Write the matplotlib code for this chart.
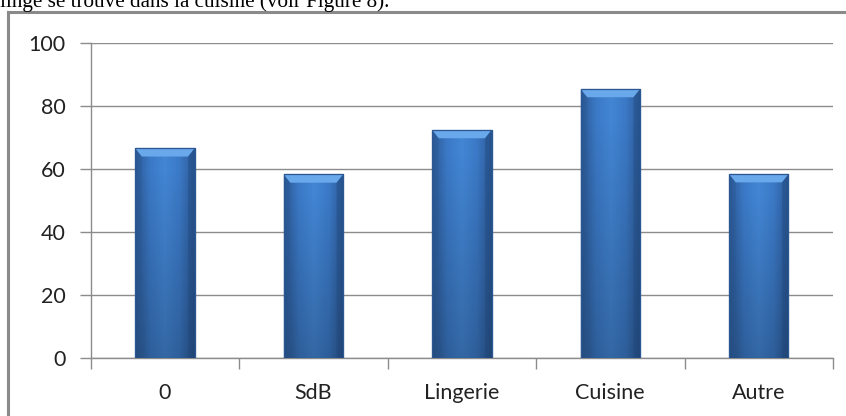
import numpy as np
import matplotlib.pyplot as plt
from matplotlib.colors import LinearSegmentedColormap
from matplotlib.patches import Polygon
from matplotlib.lines import Line2D

# Data
categories = ["0", "SdB", "Lingerie", "Cuisine", "Autre"]
values = [66.5, 58.2, 72.3, 85.3, 58.3]
yticks = [0, 20, 40, 60, 80, 100]
caption = "linge se trouve dans la cuisine (voir Figure 8)."

W, H = 846, 416
fig = plt.figure(figsize=(W / 100, H / 100), dpi=100)
fig.patch.set_facecolor("white")

# cut-off line of body text above the chart
fig.text(0, 1 - 7 / H, caption, family="Liberation Serif", fontsize=15.2,
         ha="left", va="baseline", color="black")

# chart frame (only top and left edges are visible in the crop)
fig.add_artist(Line2D([8 / W, 8 / W], [0, 1 - 12 / H], transform=fig.transFigure,
                      color="#8a8a8a", lw=2.2))
fig.add_artist(Line2D([8 / W, 1], [1 - 12 / H, 1 - 12 / H], transform=fig.transFigure,
                      color="#8a8a8a", lw=2.2))

ax = fig.add_axes([90.7 / W, 1 - 358 / H, (833 - 90.7) / W, (358 - 42.7) / H])
x = np.arange(len(categories))
bars = ax.bar(x, values, width=0.4, color="#3b78c4", edgecolor="#2d5d9a",
              linewidth=0.8, zorder=3)

ax.set_xlim(-0.5, len(categories) - 0.5)
ax.set_ylim(0, 100)
ax.set_yticks(yticks)
ax.set_xticks(x)
ax.set_xticklabels(categories)
ax.set_xticks(np.arange(len(categories) + 1) - 0.5, minor=True)

for s in ["top", "right"]:
    ax.spines[s].set_visible(False)
ax.spines["left"].set_color("#8c8c8c")
ax.spines["bottom"].set_color("#8c8c8c")
ax.spines["left"].set_linewidth(1.0)
ax.spines["bottom"].set_linewidth(1.0)

ax.yaxis.grid(True, color="#8c8c8c", lw=1.0, zorder=0)
ax.set_axisbelow(True)
ax.tick_params(axis="y", which="major", length=8, color="#8c8c8c", width=1.0,
               pad=10, labelsize=15.5, labelcolor="#222222")
ax.tick_params(axis="x", which="major", length=0, pad=18, labelsize=15.5,
               labelcolor="#222222")
ax.tick_params(axis="x", which="minor", length=8, color="#8c8c8c", width=1.0)
for lab in ax.get_xticklabels() + ax.get_yticklabels():
    lab.set_family(["Lato", "DejaVu Sans"])

# gradient fill with a bevelled top on each bar
cmap = LinearSegmentedColormap.from_list(
    "bar", ["#2c5a96", "#3b79c6", "#4386d4", "#3b79c6", "#2c5a96"])
grad = np.linspace(0, 1, 64)[None, :]
for b in bars:
    x0, w, h = b.get_x(), b.get_width(), b.get_height()
    im = ax.imshow(grad, extent=(x0, x0 + w, 0, h), aspect="auto", cmap=cmap,
                   zorder=3.5, origin="lower")
    im.set_clip_path(b)
    # vertical darkening toward the bottom
    shade = np.linspace(0.22, 0, 64)[:, None]
    rgba = np.zeros((64, 1, 4))
    rgba[..., 3] = shade
    ax.imshow(rgba, extent=(x0, x0 + w, 0, h * 0.9), aspect="auto",
              zorder=3.6, origin="lower")
    bev = 0.11 * w
    bh = 2.6
    ax.add_patch(Polygon([(x0, h), (x0 + w, h), (x0 + w - bev, h - bh), (x0 + bev, h - bh)],
                         closed=True, facecolor="#6aa8ec", edgecolor="none", zorder=3.7))
    ax.add_patch(Polygon([(x0, h), (x0 + bev, h - bh), (x0 + bev, 0), (x0, 0)],
                         closed=True, facecolor="#2a5690", alpha=0.35,
                         edgecolor="none", zorder=3.7))
    ax.add_patch(Polygon([(x0 + w, h), (x0 + w - bev, h - bh), (x0 + w - bev, 0), (x0 + w, 0)],
                         closed=True, facecolor="#1f4478", alpha=0.35,
                         edgecolor="none", zorder=3.7))
    ax.add_patch(plt.Rectangle((x0, 0), w, h, fill=False, edgecolor="#2b5892",
                               lw=0.9, zorder=3.8))

fig.savefig("out.png", dpi=100, facecolor="white")
